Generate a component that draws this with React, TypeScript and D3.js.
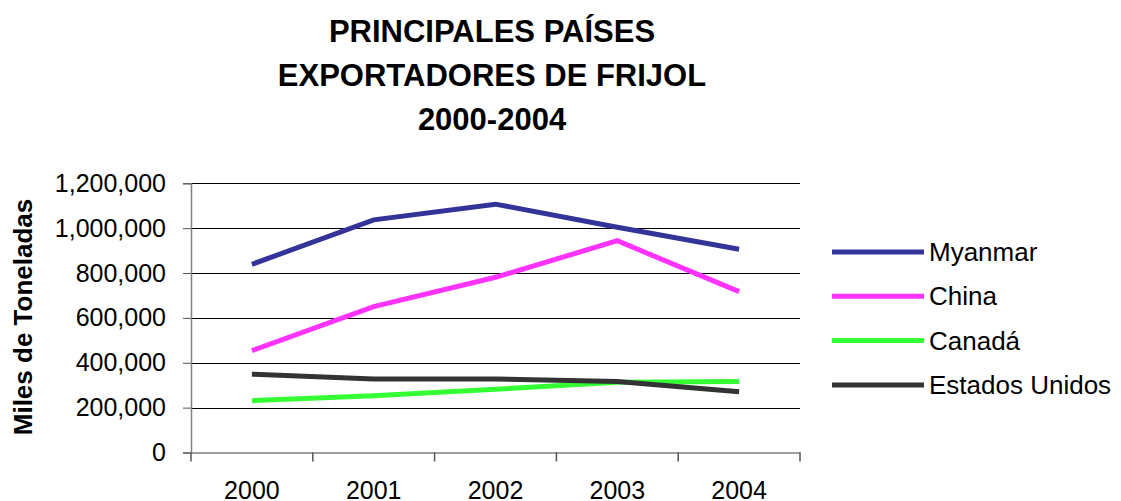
import React, { useRef, useEffect } from "react";
import * as d3 from "d3";

const years = ["2000", "2001", "2002", "2003", "2004"];
const seriesNames = ["Myanmar", "China", "Canadá", "Estados Unidos"];
const myanmar = [839000, 1037000, 1107000, 1004000, 906000];
const china = [454000, 650000, 781000, 944000, 717000];
const canada = [231000, 253000, 282000, 313000, 317000];
const estadosUnidos = [349000, 328000, 328000, 316000, 271000];
const yTicks = [0, 200000, 400000, 600000, 800000, 1000000, 1200000];
const colors = ["#333399", "#ff33ff", "#33ff33", "#333333"];
const titleLines = ["PRINCIPALES PAÍSES", "EXPORTADORES DE FRIJOL", "2000-2004"];

function App() {
  const ref = useRef<SVGSVGElement>(null);

  useEffect(() => {
    const svg = d3.select(ref.current);
    svg.selectAll("*").remove();

    const font = "'Liberation Sans', Arial, sans-serif";
    const left = 191, right = 800, top = 183.3, bottom = 452.5;

    const x = d3.scaleBand().domain(years).range([left, right]);
    const y = d3.scaleLinear().domain([0, 1200000]).range([bottom, top]);
    const fmt = d3.format(",");

    // title
    svg
      .append("g")
      .selectAll("text")
      .data(titleLines)
      .join("text")
      .attr("x", 492)
      .attr("y", (d, i) => 42 + i * 44)
      .attr("text-anchor", "middle")
      .style("font-family", font)
      .style("font-weight", "bold")
      .style("font-size", "31px")
      .text((d) => d);

    // gridlines
    svg
      .append("g")
      .selectAll("line")
      .data(yTicks.filter((t) => t > 0))
      .join("line")
      .attr("x1", left)
      .attr("x2", right)
      .attr("y1", (d) => Math.round(y(d)) + 0.5)
      .attr("y2", (d) => Math.round(y(d)) + 0.5)
      .style("stroke", "#000")
      .style("stroke-width", 1);

    // y axis
    const yAxis = svg
      .append("g")
      .attr("transform", `translate(${left},0)`)
      .call(d3.axisLeft(y).tickValues(yTicks).tickFormat((d) => fmt(d as number)).tickSize(8).tickPadding(17));
    yAxis.select(".domain").style("stroke", "#808080").style("stroke-width", 1.5);
    yAxis.selectAll(".tick line").style("stroke", "#555");
    yAxis
      .selectAll("text")
      .style("font-family", font)
      .style("font-size", "25px")
      .style("fill", "#000");

    // x axis
    const xAxis = svg
      .append("g")
      .attr("transform", `translate(0,${bottom})`)
      .call(d3.axisBottom(x).tickSize(0).tickPadding(29));
    xAxis.select(".domain").style("stroke", "#808080").style("stroke-width", 1.5);
    xAxis
      .selectAll("text")
      .style("font-family", font)
      .style("font-size", "25px")
      .style("fill", "#000");
    xAxis
      .selectAll("line.cat")
      .data([...years.map((d) => x(d) as number), right])
      .join("line")
      .attr("class", "cat")
      .attr("x1", (d) => d)
      .attr("x2", (d) => d)
      .attr("y1", 0)
      .attr("y2", 9)
      .style("stroke", "#555")
      .style("stroke-width", 1.5);

    // y axis title
    svg
      .append("text")
      .attr("transform", "translate(32,317) rotate(-90)")
      .attr("text-anchor", "middle")
      .style("font-family", font)
      .style("font-weight", "bold")
      .style("font-size", "26px")
      .text("Miles de Toneladas");

    // lines
    const allSeries = [myanmar, china, canada, estadosUnidos];
    const line = d3
      .line<number>()
      .x((d, i) => (x(years[i]) as number) + x.bandwidth() / 2)
      .y((d) => y(d));

    svg
      .append("g")
      .selectAll("path")
      .data(allSeries)
      .join("path")
      .attr("d", (d) => line(d))
      .style("fill", "none")
      .style("stroke", (d, i) => colors[i])
      .style("stroke-width", 5);

    // legend
    const legend = svg
      .append("g")
      .selectAll("g")
      .data(seriesNames)
      .join("g")
      .attr("transform", (d, i) => `translate(832,${252 + i * 44.3})`);
    legend
      .append("line")
      .attr("x1", 0)
      .attr("x2", 92)
      .style("stroke", (d, i) => colors[i])
      .style("stroke-width", 5);
    legend
      .append("text")
      .attr("x", 97)
      .attr("y", 9)
      .style("font-family", font)
      .style("font-size", "26px")
      .text((d) => d);
  }, []);

  return (
    <svg
      ref={ref}
      width={1121}
      height={501}
      style={{ position: "absolute", left: 0, top: 0, background: "#fff" }}
    ></svg>
  );
}

export default App;
